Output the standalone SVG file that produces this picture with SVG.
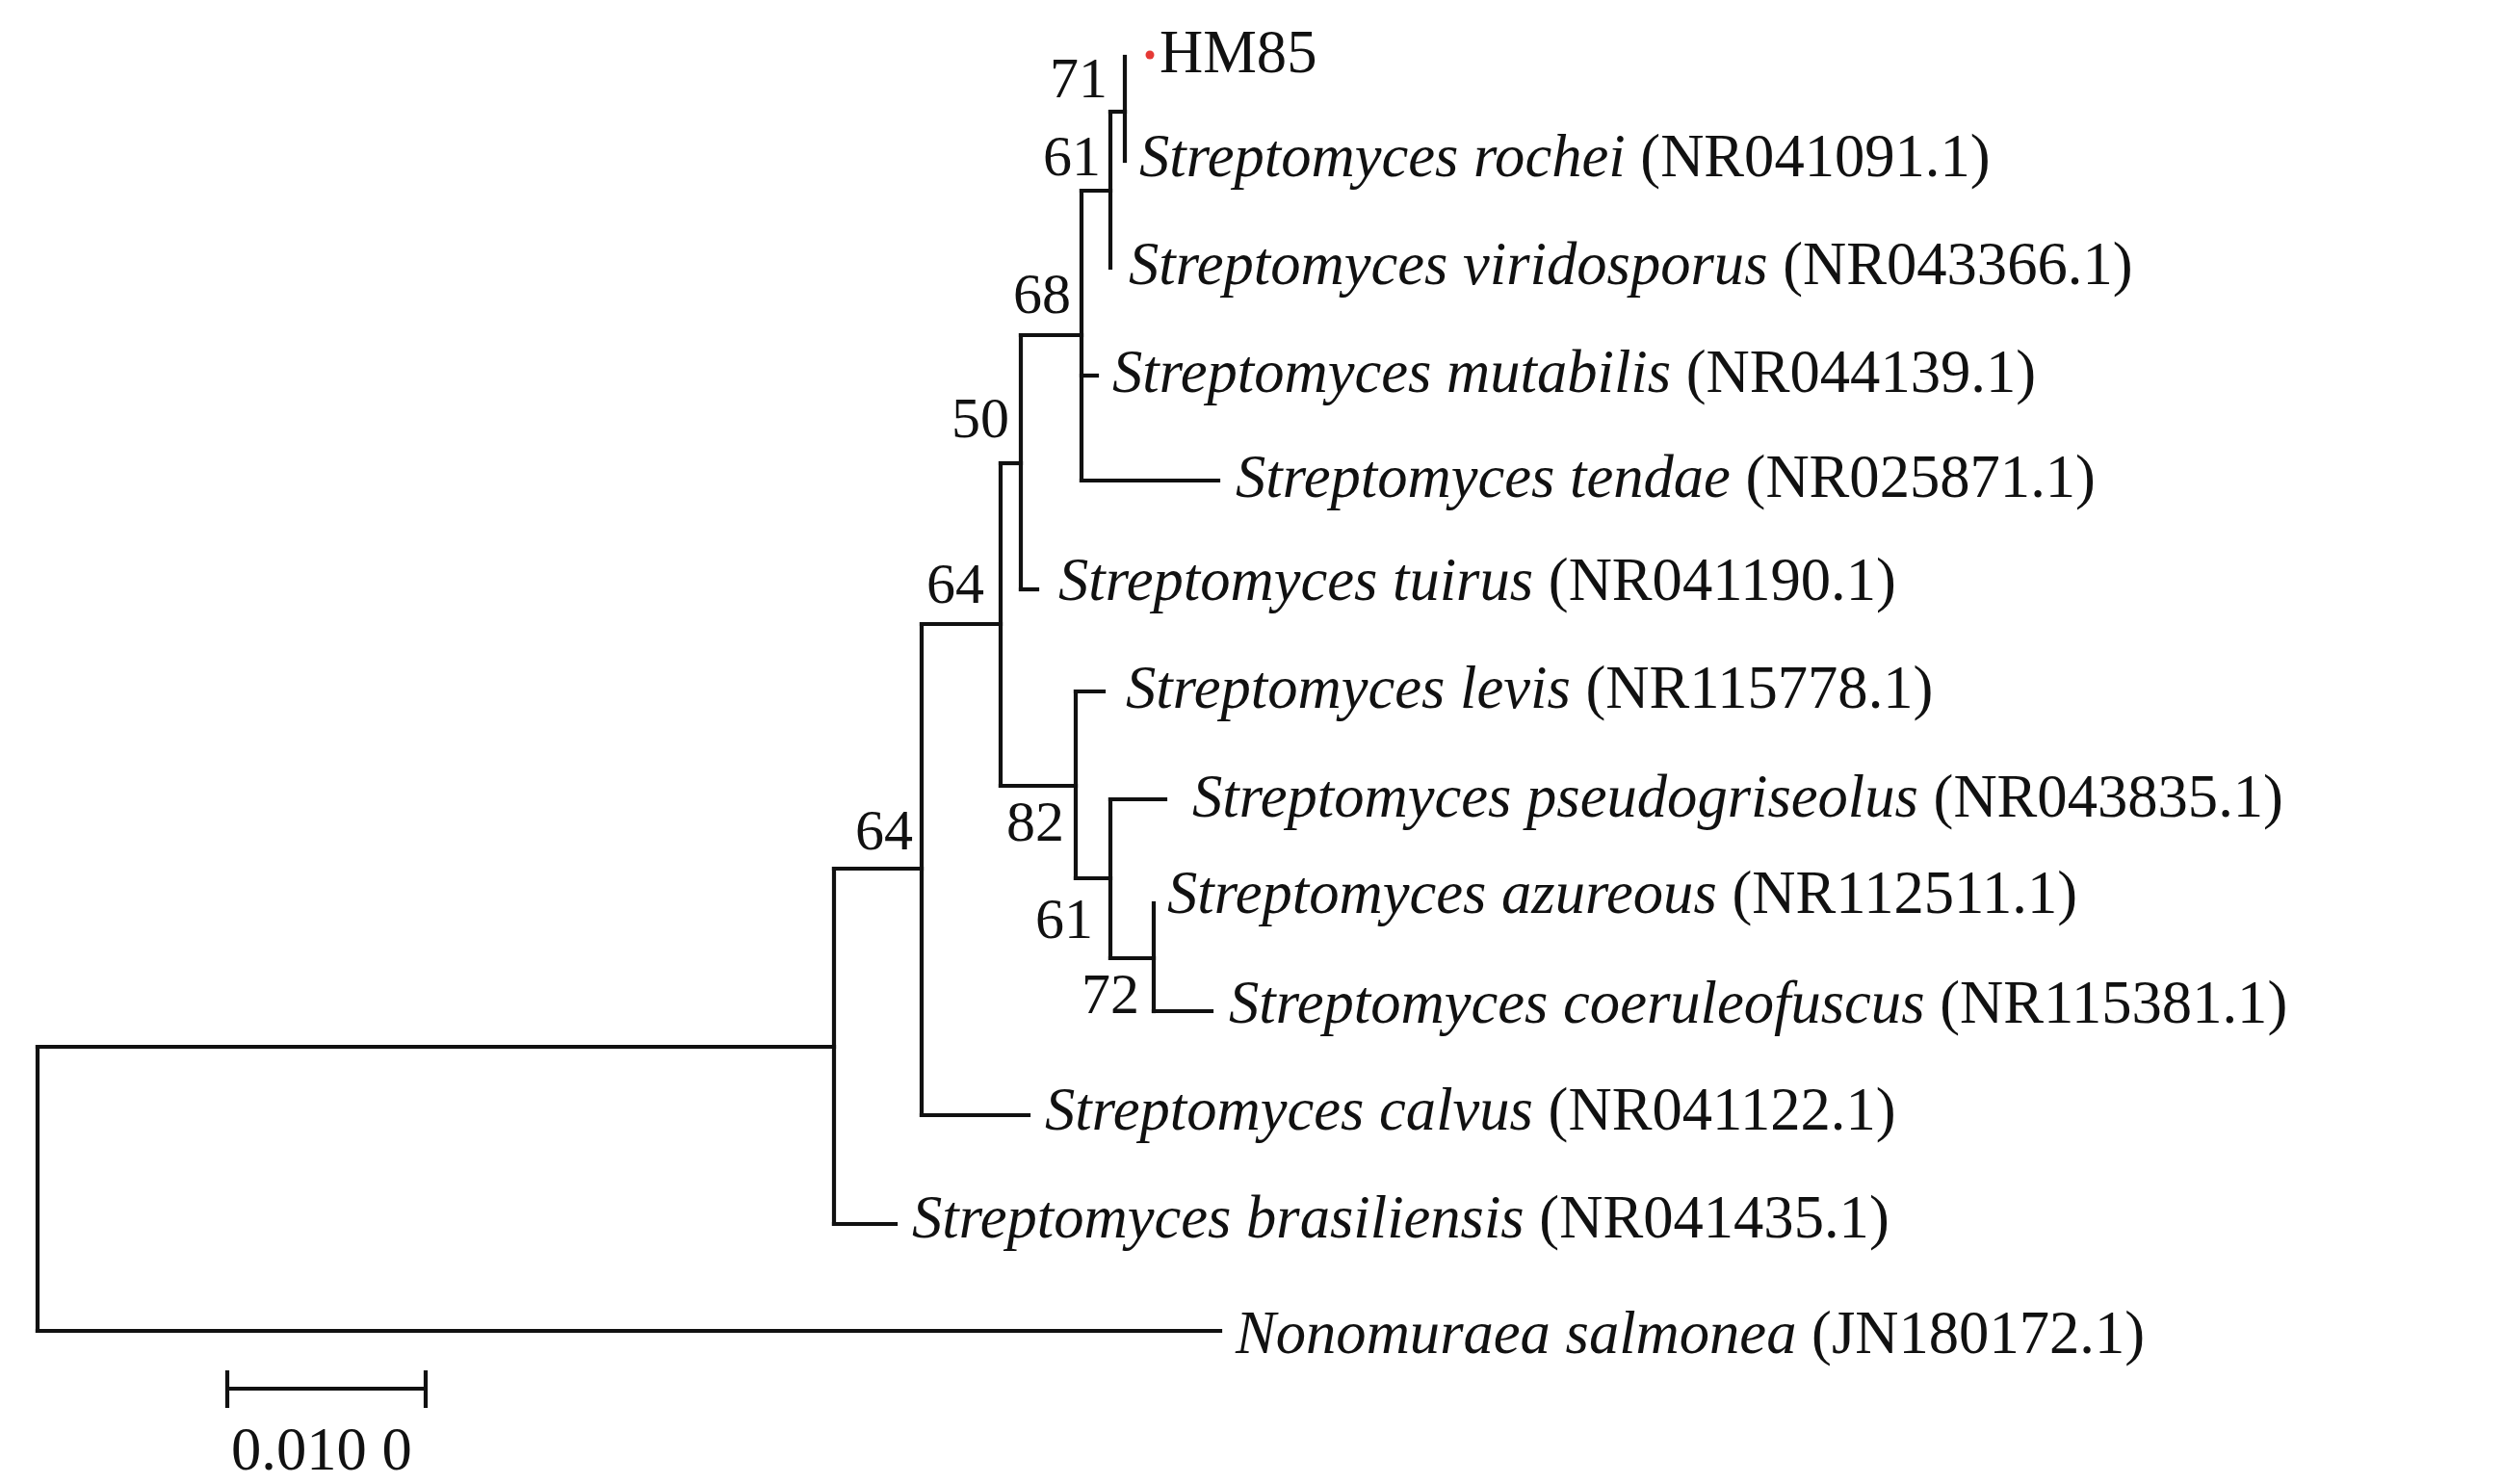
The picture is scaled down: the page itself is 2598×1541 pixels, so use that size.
<svg xmlns="http://www.w3.org/2000/svg" width="2598" height="1541" viewBox="0 0 2598 1541">
<style>
.br{fill:none;stroke:#111111;stroke-width:4.2;stroke-linecap:square}
.sp{font-family:"Liberation Serif","Times New Roman",serif;font-size:62.6px;fill:#111111}
.it{font-style:italic}
.bs{font-family:"Liberation Serif","Times New Roman",serif;font-size:60px;fill:#111111;text-anchor:end}
</style>
<rect width="2598" height="1541" fill="#ffffff"/>
<g id="connectors" class="br">
<path d="M39,1087 V1382"/>
<path d="M39,1087 H866"/>
<path d="M39,1382 H1267"/>
<path d="M866,902 V1271"/>
<path d="M866,1271 H930"/>
<path d="M866,902 H957"/>
<path d="M957,648 V1158"/>
<path d="M957,1158 H1068"/>
<path d="M957,648 H1039"/>
<path d="M1039,481 V816"/>
<path d="M1039,481 H1060"/>
<path d="M1060,348 V612"/>
<path d="M1060,612 H1077"/>
<path d="M1060,348 H1123"/>
<path d="M1123,198 V499"/>
<path d="M1123,499 H1265"/>
<path d="M1123,390 H1139"/>
<path d="M1123,198 H1153"/>
<path d="M1153,116 V278"/>
<path d="M1153,116 H1168"/>
<path d="M1168,59 V167"/>
<path d="M1039,816 H1117"/>
<path d="M1117,718 V912"/>
<path d="M1117,718 H1146"/>
<path d="M1117,912 H1153"/>
<path d="M1153,830 V995"/>
<path d="M1153,830 H1210"/>
<path d="M1153,995 H1198"/>
<path d="M1198,938 V1050"/>
<path d="M1198,1050 H1258"/>
</g>
<g id="bootstrap">
<text class="bs" x="1150" y="101">71</text>
<text class="bs" x="1143" y="182">61</text>
<text class="bs" x="1112" y="325">68</text>
<text class="bs" x="1048" y="454">50</text>
<text class="bs" x="1022" y="626">64</text>
<text class="bs" x="948" y="882">64</text>
<text class="bs" x="1105" y="873">82</text>
<text class="bs" x="1135" y="974">61</text>
<text class="bs" x="1183" y="1052">72</text>
</g>
<g id="node-HM85">
<circle cx="1194" cy="57" r="4.5" fill="#e53935"/>
<text class="sp" x="1204" y="75">HM85</text>
</g>
<g id="node-rochei"><text class="sp" x="1183" y="183"><tspan class="it">Streptomyces rochei</tspan> (NR041091.1)</text></g>
<g id="node-viridosporus"><text class="sp" x="1172" y="295"><tspan class="it">Streptomyces viridosporus</tspan> (NR043366.1)</text></g>
<g id="node-mutabilis"><text class="sp" x="1155" y="407"><tspan class="it">Streptomyces mutabilis</tspan> (NR044139.1)</text></g>
<g id="node-tendae"><text class="sp" x="1283" y="516"><tspan class="it">Streptomyces tendae</tspan> (NR025871.1)</text></g>
<g id="node-tuirus"><text class="sp" x="1099" y="623"><tspan class="it">Streptomyces tuirus</tspan> (NR041190.1)</text></g>
<g id="node-levis"><text class="sp" x="1169" y="735"><tspan class="it">Streptomyces levis</tspan> (NR115778.1)</text></g>
<g id="node-pseudogriseolus"><text class="sp" x="1238" y="848"><tspan class="it">Streptomyces pseudogriseolus</tspan> (NR043835.1)</text></g>
<g id="node-azureous"><text class="sp" x="1212" y="948"><tspan class="it">Streptomyces azureous</tspan> (NR112511.1)</text></g>
<g id="node-coeruleofuscus"><text class="sp" x="1276" y="1062"><tspan class="it">Streptomyces coeruleofuscus</tspan> (NR115381.1)</text></g>
<g id="node-calvus"><text class="sp" x="1085" y="1173"><tspan class="it">Streptomyces calvus</tspan> (NR041122.1)</text></g>
<g id="node-brasiliensis"><text class="sp" x="947" y="1285"><tspan class="it">Streptomyces brasiliensis</tspan> (NR041435.1)</text></g>
<g id="node-nonomuraea"><text class="sp" x="1283" y="1405"><tspan class="it">Nonomuraea salmonea</tspan> (JN180172.1)</text></g>
<g id="scale-bar">
<path class="br" d="M236,1442 H442 M236,1425 V1460 M442,1425 V1460"/>
<text class="sp" x="240" y="1526">0.010 0</text>
</g>
</svg>
